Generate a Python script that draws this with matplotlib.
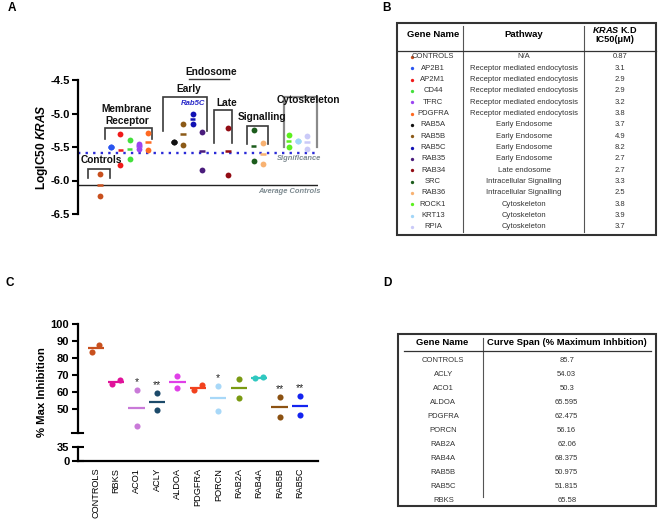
import numpy as np
import matplotlib
matplotlib.use("Agg")
from matplotlib import pyplot as plt
from matplotlib.patches import Rectangle

plt.rcParams['font.family'] = ['Liberation Sans', 'DejaVu Sans']
plt.rcParams['axes.unicode_minus'] = False
plt.rcParams['mathtext.fontset'] = 'custom'
plt.rcParams['mathtext.it'] = 'Liberation Sans:italic:bold'
plt.rcParams['mathtext.rm'] = 'Liberation Sans:bold'

# ---- panel A / B data ----
genes_a = ["CONTROLS", "AP2B1", "AP2M1", "CD44", "TFRC", "PDGFRA", "RAB5A", "RAB5B",
           "RAB5C", "RAB35", "RAB34", "SRC", "RAB36", "ROCK1", "KRT13", "RPIA"]
colors_a = ["#c8501e", "#2a55f0", "#f01a1a", "#44e03c", "#9b45f2", "#ff6a22", "#111111", "#8c5a18",
            "#1212b4", "#4a1c7c", "#920c14", "#1c5c1c", "#f8b272", "#5cf01e", "#a2d6f8", "#cacaf8"]
rep1_a = [-5.90, -5.50, -5.31, -5.39, -5.45, -5.29, -5.43, -5.15,
          -5.00, -5.28, -5.21, -5.25, -5.445, -5.32, -5.41, -5.33]
rep2_a = [-6.23, -5.50, -5.77, -5.68, -5.53, -5.55, -5.43, -5.47,
          -5.16, -5.85, -5.92, -5.71, -5.75, -5.50, -5.41, -5.53]
group_sizes = [1, 5, 4, 1, 2, 3]
significance = -5.585

pathway_b = ["N/A"] + ["Receptor mediated endocytosis"] * 5 + ["Early Endosome"] * 4 + \
            ["Late endosome"] + ["Intracellular Signalling"] * 2 + ["Cytoskeleton"] * 3
ic50_b = [0.87, 3.1, 2.9, 2.9, 3.2, 3.8, 3.7, 4.9, 8.2, 2.7, 2.7, 3.3, 2.5, 3.8, 3.9, 3.7]

# ---- panel C / D data ----
genes_c = ["CONTROLS", "RBKS", "ACO1", "ACLY", "ALDOA", "PDGFRA", "PORCN", "RAB2A", "RAB4A", "RAB5B", "RAB5C"]
colors_c = ["#c8501e", "#e0129a", "#c97ad8", "#1c4a6a", "#e040e8", "#f2421e", "#a8d8f8",
            "#7a9a12", "#30c8c0", "#8c5212", "#1424f0"]
rep1_c = [83.5, 64.4, 60.8, 59.0, 69.1, 61.0, 63.5, 67.5, 68.1, 56.8, 57.6]
rep2_c = [88.0, 66.8, 39.8, 49.1, 62.1, 63.95, 48.8, 56.6, 68.65, 45.15, 46.03]
stars_c = ["", "", "*", "**", "", "", "*", "", "", "**", "**"]

genes_d = ["CONTROLS", "ACLY", "ACO1", "ALDOA", "PDGFRA", "PORCN", "RAB2A", "RAB4A", "RAB5B", "RAB5C", "RBKS"]
span_d = [85.7, 54.03, 50.3, 65.595, 62.475, 56.16, 62.06, 68.375, 50.975, 51.815, 65.58]

W, H = 660, 525
fig = plt.figure(figsize=(W / 100, H / 100), dpi=100)


def rect(x0, y0, x1, y1):
    return [x0 / W, 1 - y1 / H, (x1 - x0) / W, (y1 - y0) / H]


# canvas in pixel coordinates for tables and panel letters
canvas = fig.add_axes([0, 0, 1, 1])
canvas.set_xlim(0, W)
canvas.set_ylim(H, 0)
canvas.axis("off")

for letter, (lx, ly) in zip("ABCD", [(8, 8), (382, 8), (6, 283), (383, 283)]):
    canvas.text(lx, ly, letter, fontsize=8.5, fontweight="bold", va="center", ha="left")

# ================= Panel A =================
axA = fig.add_axes(rect(78, 80, 318, 214))
slot = 9.25
gaps = [0, 0.2, 1.8, 1.85, 1.75, 1.8]
pos_a = []
cur = -1.0
for g, n in enumerate(group_sizes):
    cur += gaps[g]
    for _ in range(n):
        cur += 1
        pos_a.append(cur)
pos_a = np.array(pos_a)

axA.set_xlim(-22 / slot, 218 / slot)
axA.set_ylim(-6.5, -4.5)

r1 = np.array(rep1_a)
r2 = np.array(rep2_a)
means_a = (r1 + r2) / 2
for x, a, b, m, c in zip(pos_a, r1, r2, means_a, colors_a):
    axA.hlines(m, x - 0.3, x + 0.3, color=c, lw=1.8, zorder=2)
    axA.plot([x, x], [a, b], 'o', color=c, ms=4.2, mec='none', zorder=3, clip_on=False)

axA.axhline(significance, color="#2a2ad8", lw=1.7, ls=(0, (1, 2.2)), zorder=1)
axA.axhline(means_a[0], color="#222222", lw=1.0, zorder=1)
axA.text(21.5, -5.674, "Significance", fontsize=5.4, fontstyle="italic", fontweight="bold",
         color="#7d8a90", ha="center", va="center")
axA.text(20.5, -6.17, "Average Controls", fontsize=5.4, fontstyle="italic", fontweight="bold",
         color="#7d8a90", ha="center", va="center")

# group brackets: (left, right, top, leg end)
brackets = [(-1.33, 1.08, -5.833, -5.967), (0.51, 5.65, -5.22, -5.38), (6.77, 11.57, -4.76, -5.257),
            (12.28, 14.3, -4.943, -5.445), (15.9, 18.2, -5.18, -5.455), (19.9, 23.5, -4.75, -5.495)]
for i, (l, r, t, b) in enumerate(brackets):
    col = "#8a8a8a" if i == 5 else "#3a3a3a"
    lw = 1.6 if i == 5 else 1.2
    axA.plot([l, l, r, r], [b, t, t, b], color=col, lw=lw, clip_on=False, solid_joinstyle="miter")

labels_a = [("Controls", 0.1, -5.694), ("Membrane\nReceptor", 2.9, -5.02), ("Early", 9.62, -4.634),
            ("Late", 13.73, -4.84), ("Signalling", 17.48, -5.05), ("Cytoskeleton", 22.5, -4.80),
            ("Endosome", 12.0, -4.38)]
for txt, x, y in labels_a:
    axA.text(x, y, txt, fontsize=7.3, fontweight="bold", ha="center", va="center",
             linespacing=1.25, clip_on=False, color="#111111")
axA.plot([9.62, 13.95], [-4.49, -4.49], color="#3a3a3a", lw=1.0, clip_on=False)
axA.text(10.05, -4.858, "Rab5C", fontsize=5.6, fontstyle="italic", fontweight="bold",
         color="#2828c8", ha="center", va="center")

for s in ["top", "right", "bottom"]:
    axA.spines[s].set_visible(False)
axA.spines["left"].set_linewidth(1.6)
axA.set_xticks([])
axA.set_yticks([-4.5, -5.0, -5.5, -6.0, -6.5])
axA.set_yticklabels(["%.1f" % v for v in [-4.5, -5.0, -5.5, -6.0, -6.5]])
axA.tick_params(axis="y", direction="out", length=4, width=1.5, labelsize=8, pad=2)
for lbl in axA.get_yticklabels():
    lbl.set_fontweight("bold")
fig.text(42 / W, 1 - 147 / H, r"LogIC50 $\mathit{KRAS}$", rotation=90, fontsize=8.6,
         fontweight="bold", ha="center", va="center")

# ================= Panel B (table) =================
canvas.add_patch(Rectangle((396.7, 22.7), 259.3, 212.6, fill=False, lw=1.5, ec="#333333"))
canvas.plot([463.3, 463.3], [26, 231.7], color="#555555", lw=0.8)
canvas.plot([584.3, 584.3], [26, 231.7], color="#555555", lw=0.8)
canvas.plot([396.7, 656], [50.7, 50.7], color="#333333", lw=0.9)
canvas.text(432.7, 34.7, "Gene Name", fontsize=6.8, fontweight="bold", ha="center", va="center")
canvas.text(523.3, 34.7, "Pathway", fontsize=6.8, fontweight="bold", ha="center", va="center")
canvas.text(615, 30, r"$\mathit{KRAS}$ K.D", fontsize=6.6, fontweight="bold", ha="center", va="center")
canvas.text(615, 39.5, "IC50(μM)", fontsize=6.6, fontweight="bold", ha="center", va="center")
for i, (g, p, v, c) in enumerate(zip(genes_a, pathway_b, ic50_b, colors_a)):
    y = 57 + i * 11.33
    canvas.plot(411.7, y, 'o', color=c, ms=2.4, mec='none')
    canvas.text(433, y, g, fontsize=5.5, color="#333333", ha="center", va="center")
    canvas.text(524, y, p, fontsize=5.5, color="#333333", ha="center", va="center")
    canvas.text(620, y, str(v), fontsize=5.5, color="#333333", ha="center", va="center")

# ================= Panel C =================
x_c = np.arange(len(genes_c))
xlim_c = (-18 / 20.43, 222 / 20.43)
axU = fig.add_axes(rect(77.7, 324.3, 317.7, 433.3))
axL = fig.add_axes(rect(77.7, 446.7, 317.7, 460.7))
axU.set_ylim(35.4, 100)
axL.set_ylim(0, 35)
for ax in (axU, axL):
    ax.set_xlim(*xlim_c)
    ax.patch.set_visible(False)
    for s in ["top", "right"]:
        ax.spines[s].set_visible(False)
    ax.spines["left"].set_linewidth(1.6)
    ax.tick_params(axis="y", direction="out", length=4, width=1.5, labelsize=8, pad=2)
axU.spines["bottom"].set_visible(False)
axU.set_xticks([])
axU.set_yticks([50, 60, 70, 80, 90, 100])
axL.set_yticks([0, 35])
axL.tick_params(axis="y", direction="inout", length=8)
axL.spines["bottom"].set_linewidth(1.6)
axU.plot([-0.022, 0.022], [0, 0], color="black", lw=1.5, transform=axU.transAxes, clip_on=False)
axL.set_xticks(x_c)
axL.set_xticklabels(genes_c, rotation=90, fontsize=6.6)
axL.tick_params(axis="x", length=0, pad=5)
for ax in (axU, axL):
    for lbl in ax.get_yticklabels():
        lbl.set_fontweight("bold")

c1 = np.array(rep1_c)
c2 = np.array(rep2_c)
means_c = (c1 + c2) / 2
for x, a, b, m, c, st in zip(x_c, c1, c2, means_c, colors_c, stars_c):
    dx = 0.18 if abs(a - b) < 5 else 0.0
    axU.hlines(m, x - 0.4, x + 0.4, color=c, lw=1.6, zorder=2)
    axU.plot([x - dx, x + dx], [a, b], 'o', color=c, ms=4.4, mec='none', zorder=3, clip_on=False)
    if st:
        axU.text(x, max(a, b) + 1.8, st, fontsize=7.5, color="#222222", ha="center", va="bottom")
fig.text(42 / W, 1 - 392.5 / H, "% Max Inhibition", rotation=90, fontsize=8.2,
         fontweight="bold", ha="center", va="center")

# ================= Panel D (table) =================
canvas.add_patch(Rectangle((397.7, 334), 258.3, 172, fill=False, lw=1.5, ec="#333333"))
canvas.plot([483.3, 483.3], [338, 496.7], color="#555555", lw=0.8)
canvas.plot([404, 650.7], [351.3, 351.3], color="#333333", lw=0.9)
canvas.text(441.7, 342.7, "Gene Name", fontsize=6.8, fontweight="bold", ha="center", va="center")
canvas.text(566.7, 342.7, "Curve Span (% Maximum Inhbition)", fontsize=6.8, fontweight="bold",
            ha="center", va="center")
for i, (g, v) in enumerate(zip(genes_d, span_d)):
    y = 360 + i * 14
    canvas.text(443.3, y, g, fontsize=5.5, color="#333333", ha="center", va="center")
    canvas.text(566.7, y, str(v), fontsize=5.5, color="#333333", ha="center", va="center")

fig.savefig("out.png", dpi=100)
